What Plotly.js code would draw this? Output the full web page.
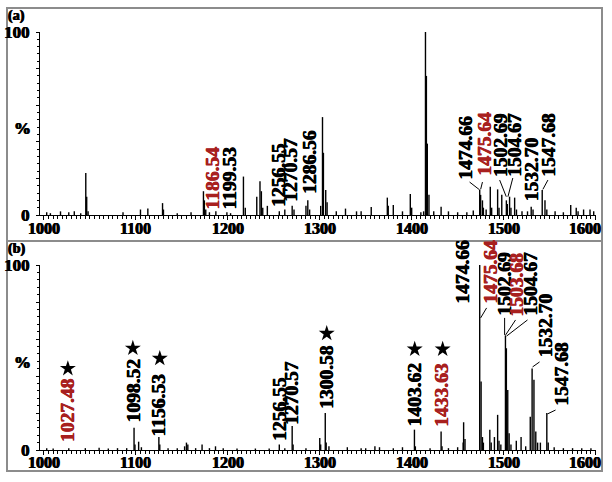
<!DOCTYPE html>
<html>
<head>
<meta charset="utf-8">
<script src="https://cdn.plot.ly/plotly-3.0.1.min.js"></script>
<style>
  body { margin: 0; background: #fff; }
  #plot { width: 612px; height: 482px; }
</style>
</head>
<body>
<div id="plot"></div>
<script>
// spectrum (a): m/z and relative intensity (%)
const mzA = [1003, 1007, 1018, 1027, 1033, 1040, 1045.5, 1046.5, 1048, 1086, 1105, 1113, 1129, 1130,
  1145, 1160, 1173.5, 1174.5, 1176, 1180, 1187, 1199, 1203, 1217, 1219, 1231.5, 1235, 1236.5, 1238,
  1243, 1256, 1262, 1270, 1272, 1285, 1287, 1289, 1301, 1303, 1304, 1306.5, 1308, 1318, 1328, 1340,
  1345, 1356, 1373.5, 1374.5, 1380, 1390, 1398.5, 1400, 1410, 1413, 1415, 1416, 1417, 1418.8, 1424,
  1432, 1440, 1450, 1460, 1467, 1474, 1475, 1477, 1478, 1481, 1485.5, 1487, 1493.5, 1495, 1498,
  1503, 1504, 1506.5, 1508, 1512, 1514, 1520, 1526, 1530, 1532, 1542, 1545, 1547, 1556, 1565, 1573,
  1579, 1581, 1587, 1594, 1598];
const intA = [1.5, 1, 2, 1.5, 2, 1, 23, 10, 2, 1.5, 3, 3.5, 6.5, 3,
  1, 1.5, 13, 8, 3, 1.5, 2, 1.5, 1, 21, 4, 10, 18.5, 13, 4,
  5, 2, 3, 5, 3, 5, 8, 3, 5, 53.5, 34, 13.7, 7, 2, 3.5, 2,
  2, 4.4, 9.5, 5, 5.5, 2, 11.5, 4, 1.5, 2, 100, 76, 39, 11, 2,
  4.5, 2, 1.5, 1.5, 2.5, 13.7, 11, 8, 4, 3, 15.5, 4, 14, 4, 11,
  8, 6, 10, 4, 9.5, 3, 2, 2, 4.5, 3, 13.7, 8, 3, 2, 1.5, 5.5,
  4, 2, 3, 3, 2];

// spectrum (b)
const mzB = [1003, 1010, 1027, 1045, 1060, 1070, 1080, 1090, 1098, 1099, 1103, 1106, 1125, 1126,
  1135, 1145, 1153, 1155, 1156.5, 1165, 1172, 1180, 1186.6, 1195, 1210, 1230, 1245,
  1256, 1262, 1270, 1271, 1285, 1300, 1301, 1306, 1307, 1310, 1330, 1345, 1350, 1360, 1365, 1380,
  1390, 1403, 1404, 1420, 1432, 1433, 1440, 1450, 1456, 1456.5, 1458, 1474, 1475.5, 1477, 1478,
  1485, 1486.5, 1490, 1493.5, 1495, 1497, 1502, 1503, 1504.5, 1506, 1508, 1513.8, 1519, 1524,
  1529, 1531, 1533, 1535, 1537, 1540, 1547, 1548.5, 1555, 1565, 1575, 1585, 1595];
const intB = [1, 0.8, 1, 1, 1.2, 0.8, 1, 1, 12, 3, 4.5, 1.5, 7, 3,
  1, 1, 2, 4, 3, 1, 3, 1, 2, 1, 0.8, 0.8, 0.8,
  3, 1, 13, 3, 1, 6.5, 3, 20, 4, 2, 1.5, 1, 1, 2, 1.5, 1,
  1.5, 11, 2, 1, 10, 2, 1, 1.5, 4, 15, 6, 100, 37, 7, 4,
  11, 4, 7, 19, 5, 3, 62, 55, 32.4, 9, 3, 5, 7, 2,
  18, 44, 38, 10, 4, 4, 20, 4, 1.5, 1, 1, 1, 1];

// starred peaks in (b)
const starMz = [1026, 1096.7, 1126, 1307.6, 1403.3, 1433.7, 1515.2];
const starY = [44, 55, 49.5, 63, 54.5, 54.5, 109];

const xTicks = [1000, 1100, 1200, 1300, 1400, 1500, 1600];

// peak labels: text, colour, label x, label bottom y
const red = "#a8201f";
const labelsA = [
  ["1186.54", red, 1183.7, 2.7],
  ["1199.53", "black", 1202.2, 2.7],
  ["1256.55", "black", 1254.3, 3.8],
  ["1270.57", "black", 1268.5, 6.6],
  ["1286.56", "black", 1288, 10.9],
  ["1474.66", "black", 1458.5, 19.1],
  ["1475.64", red, 1479.3, 20.8],
  ["1502.69", "black", 1496.5, 20.5],
  ["1504.67", "black", 1511.5, 20.5],
  ["1532.70", "black", 1530.5, 7.1],
  ["1547.68", "black", 1548.5, 20.5],
];
const labelsB = [
  ["1027.48", red, 1026.1, 3.8],
  ["1098.52", "black", 1097.8, 14.6],
  ["1156.53", "black", 1125, 7],
  ["1256.55", "black", 1255.4, 4.3],
  ["1270.57", "black", 1269.6, 13],
  ["1300.58", "black", 1306.5, 21.6],
  ["1403.62", "black", 1403.3, 12.4],
  ["1433.63", red, 1432.6, 11.9],
  ["1474.66", "black", 1455.4, 78.4],
  ["1475.64", red, 1485.9, 78.4],
  ["1502.69", "black", 1501.1, 71.9],
  ["1503.68", red, 1514.1, 71.4],
  ["1504.67", "black", 1529.3, 71.9],
  ["1532.70", "black", 1545.7, 49.7],
  ["1547.68", "black", 1562, 23.2],
];
// leader lines [x0, y0, x1, y1]
const leadersA = [
  [1463, 18, 1474, 13.7],
  [1477, 18, 1475, 14],
  [1495.7, 19.1, 1502.9, 10],
  [1510, 20.2, 1504.7, 10],
  [1548.2, 19.1, 1542.7, 14],
];
const leadersB = [
  [1463, 105.4, 1473.9, 100.5],
  [1481.5, 76.8, 1475, 71.4],
  [1501.1, 71.4, 1501.1, 62.2],
  [1513, 70.3, 1502.2, 62.2],
  [1526, 70.3, 1503.3, 61.6],
  [1539.1, 47.6, 1531.5, 44.9],
  [1556.5, 21.6, 1547.8, 19.5],
];

const W = 612, H = 482;
const serif = "Liberation Serif";

// heavier strokes, like the scanned original
function heavy(c) {
  return "0.5px 0 0 " + c + ", -0.4px 0 0 " + c;
}

function sticks(mz, inten, xa, ya) {
  const xs = [], ys = [];
  mz.forEach((m, i) => {
    xs.push(m, m, null);
    ys.push(0, inten[i], null);
  });
  return {
    x: xs, y: ys, xaxis: xa, yaxis: ya,
    type: "scatter", mode: "lines",
    line: { color: "black", width: 1.4 },
    hoverinfo: "skip", showlegend: false,
  };
}

const traces = [
  sticks(mzA, intA, "x", "y"),
  sticks(mzB, intB, "x2", "y2"),
  {
    x: starMz, y: starY, xaxis: "x2", yaxis: "y2",
    type: "scatter", mode: "markers", cliponaxis: false,
    marker: { symbol: "star", size: 12, color: "black", line: { width: 0 } },
    showlegend: false,
  },
];

const tickFont = { family: serif, size: 17, color: "black", weight: "bold", shadow: heavy("black") };

function xAxis(anchor) {
  return {
    domain: [40 / W, 596 / W],
    range: [995.7, 1600.5],
    anchor: anchor,
    showline: true, linecolor: "black", linewidth: 1,
    ticks: "outside", ticklen: 4, tickwidth: 1, tickcolor: "black",
    tickvals: xTicks,
    showticklabels: false,
    minor: { dtick: 5, tick0: 1000, ticks: "outside", ticklen: 3, tickcolor: "black" },
    showgrid: false, zeroline: false,
  };
}

function yAxis(anchor, y0px, y100px) {
  return {
    domain: [1 - y0px / H, 1 - y100px / H],
    range: [0, 100],
    anchor: anchor,
    showline: true, linecolor: "black", linewidth: 1,
    ticks: "outside", ticklen: 3, tickwidth: 1, tickcolor: "black",
    tickvals: [0, 20, 40, 60, 80, 100],
    ticktext: ["0", "", "", "", "", "100"],
    ticklabelstandoff: 3,
    minor: { dtick: 4, ticks: "outside", ticklen: 2, tickcolor: "black" },
    showgrid: false, zeroline: false,
    tickfont: tickFont,
  };
}

const annotations = [];
function addLabels(list, xr, yr) {
  list.forEach(([t, c, x, y]) => {
    annotations.push({
      text: t, x: x, y: y, xref: xr, yref: yr,
      textangle: -90, xanchor: "center", yanchor: "bottom",
      showarrow: false, borderpad: 0,
      font: { family: serif, size: 19.5, color: c, weight: "bold", shadow: heavy(c) },
    });
  });
}
addLabels(labelsA, "x", "y");
addLabels(labelsB, "x2", "y2");

// x tick labels for both panels (both x axes share domain and range);
// 1600 is pulled inside the frame, as in the original
[228, 462].forEach((py) => {
  xTicks.forEach((v) => {
    const last = v === xTicks[xTicks.length - 1];
    annotations.push({
      text: String(v), xref: last ? "paper" : "x", yref: "paper",
      x: last ? 602 / W : v, y: 1 - py / H,
      xanchor: last ? "right" : "center", yanchor: "middle",
      showarrow: false, borderpad: 0,
      font: { family: serif, size: 16, color: "black", weight: "bold", shadow: heavy("black") },
    });
  });
});

function paperText(t, px, py, xanchor, size) {
  annotations.push({
    text: t, xref: "paper", yref: "paper", x: px / W, y: 1 - py / H,
    xanchor: xanchor, yanchor: "middle", showarrow: false, borderpad: 0,
    font: { family: serif, size: size, color: "black", weight: "bold", shadow: heavy("black") },
  });
}
paperText("(a)", 7, 16, "left", 14);
paperText("(b)", 7, 249, "left", 14);
paperText("%", 22, 129, "center", 17);
paperText("%", 22, 362, "center", 17);

const shapes = [
  { type: "rect", xref: "paper", yref: "paper", x0: 7 / W, x1: 602 / W, y0: 1 - 241 / H, y1: 1 - 8 / H,
    line: { color: "#8c8c8c", width: 2 }, layer: "below" },
  { type: "rect", xref: "paper", yref: "paper", x0: 7 / W, x1: 602 / W, y0: 1 - 471 / H, y1: 1 - 241 / H,
    line: { color: "#8c8c8c", width: 2 }, layer: "below" },
];
leadersA.forEach(([x0, y0, x1, y1]) => shapes.push({ type: "line", xref: "x", yref: "y", x0, y0, x1, y1,
  line: { color: "black", width: 1 } }));
leadersB.forEach(([x0, y0, x1, y1]) => shapes.push({ type: "line", xref: "x2", yref: "y2", x0, y0, x1, y1,
  line: { color: "black", width: 1 } }));

const layout = {
  width: W, height: H,
  margin: { l: 0, r: 0, t: 0, b: 0 },
  paper_bgcolor: "white", plot_bgcolor: "rgba(0,0,0,0)",
  showlegend: false,
  xaxis: xAxis("y"),
  yaxis: yAxis("x", 215, 32),
  xaxis2: xAxis("y2"),
  yaxis2: yAxis("x2", 450, 265),
  annotations: annotations,
  shapes: shapes,
};

Plotly.newPlot("plot", traces, layout, { displayModeBar: false, staticPlot: true });
</script>
</body>
</html>
